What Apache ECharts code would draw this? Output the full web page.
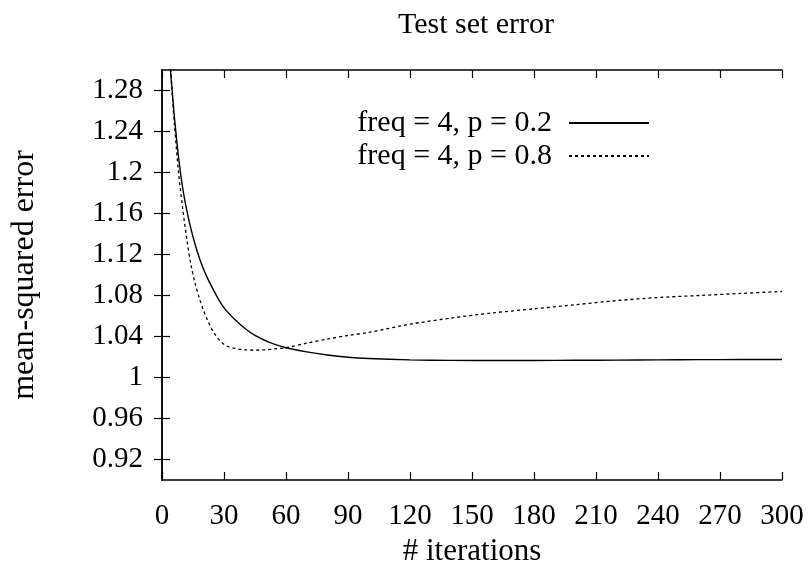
<!DOCTYPE html>
<html>
<head>
<meta charset="utf-8">
<script src="https://cdn.jsdelivr.net/npm/echarts@6/dist/echarts.min.js"></script>
<style>
  html, body { margin: 0; padding: 0; background: #fff; }
  #chart { width: 810px; height: 569px; }
</style>
</head>
<body>
<div id="chart"></div>
<script>
// iterations (x values)
const iterations = [1, 2, 3, 4, 5, 6, 8, 10, 12, 14, 16, 18, 20, 22, 25, 28, 31, 35, 40, 45, 50, 55, 60, 70, 80, 90, 100, 120, 140, 160, 180, 200, 220, 240, 260, 280, 300]
// freq = 4, p = 0.2 (solid)
const errP02 = [1.40, 1.36, 1.33, 1.302, 1.278, 1.254, 1.215, 1.185, 1.163, 1.145, 1.130, 1.117, 1.106, 1.097, 1.085, 1.074, 1.0655, 1.057, 1.048, 1.041, 1.036, 1.032, 1.029, 1.025, 1.022, 1.0198, 1.0185, 1.0172, 1.0167, 1.0166, 1.0166, 1.0168, 1.017, 1.0172, 1.0174, 1.0175, 1.0176]
// freq = 4, p = 0.8 (dashed)
const errP08 = [1.43, 1.38, 1.34, 1.31, 1.275, 1.247, 1.20, 1.165, 1.135, 1.11, 1.092, 1.078, 1.066, 1.056, 1.044, 1.036, 1.031, 1.0285, 1.027, 1.0268, 1.027, 1.028, 1.029, 1.0335, 1.0375, 1.041, 1.044, 1.052, 1.058, 1.063, 1.067, 1.071, 1.075, 1.078, 1.080, 1.082, 1.084]
const seriesNames = ['freq = 4, p = 0.2', 'freq = 4, p = 0.8']
// y tick labels
const yTicks = [0.92, 0.96, 1, 1.04, 1.08, 1.12, 1.16, 1.2, 1.24, 1.28]

const font = 'Liberation Serif'
const pair = (xs, ys) => xs.map((x, i) => [x, ys[i]])

const chart = echarts.init(document.getElementById('chart'))

const xCommon = {
    type: 'value', min: 0, max: 300, interval: 30,
    axisLine: { show: true, lineStyle: { color: '#000', width: 1.5 } },
    axisTick: { show: true, inside: true, length: 8, lineStyle: { color: '#000', width: 1.2 } },
    splitLine: { show: false }
}
const yCommon = {
    type: 'value', min: 0.9, max: 1.3,
    axisLine: { show: true, lineStyle: { color: '#000', width: 1.5 } },
    axisTick: { show: true, inside: true, length: 8, customValues: yTicks, lineStyle: { color: '#000', width: 1.2 } },
    splitLine: { show: false }
}

chart.setOption({
    animation: false,
    backgroundColor: '#fff',
    textStyle: { fontFamily: font, color: '#000' },
    title: {
        text: 'Test set error',
        left: 471, top: 5, textAlign: 'center',
        textStyle: { fontFamily: font, fontSize: 30, fontWeight: 'normal', color: '#000' }
    },
    legend: {
        data: seriesNames,
        orient: 'vertical',
        align: 'right',
        right: 155, top: 103,
        itemWidth: 80, itemHeight: 14, itemGap: 3,
        itemStyle: { opacity: 0 },
        textStyle: { fontFamily: font, fontSize: 30, color: '#000', padding: [0, 12, 0, 0] }
    },
    grid: { left: 162, right: 28, top: 70, bottom: 89, outerBoundsMode: 'none' },
    xAxis: [
        Object.assign({}, xCommon, {
            position: 'bottom',
            name: '# iterations', nameLocation: 'middle', nameGap: 56,
            nameTextStyle: { fontFamily: font, fontSize: 31, color: '#000' },
            axisLabel: { fontFamily: font, fontSize: 29, color: '#000', margin: 22 }
        }),
        Object.assign({}, xCommon, { position: 'top', axisLabel: { show: false } })
    ],
    yAxis: [
        Object.assign({}, yCommon, {
            position: 'left',
            name: 'mean-squared error', nameLocation: 'middle', nameGap: 121,
            nameTextStyle: { fontFamily: font, fontSize: 32, color: '#000' },
            axisLabel: { fontFamily: font, fontSize: 29, color: '#000', margin: 19, customValues: yTicks }
        }),
        Object.assign({}, yCommon, { position: 'right', axisLabel: { show: false } })
    ],
    series: [
        {
            name: seriesNames[0], type: 'line', xAxisIndex: 0, yAxisIndex: 0,
            data: pair(iterations, errP02), symbol: 'none', smooth: 0.3, clip: true,
            lineStyle: { color: '#000', width: 1.4, type: 'solid' },
            itemStyle: { color: '#000' }
        },
        {
            name: seriesNames[1], type: 'line', xAxisIndex: 0, yAxisIndex: 0,
            data: pair(iterations, errP08), symbol: 'none', smooth: 0.3, clip: true,
            lineStyle: { color: '#000', width: 1.3, type: [3, 3] },
            itemStyle: { color: '#000' }
        }
    ]
})
</script>
</body>
</html>
